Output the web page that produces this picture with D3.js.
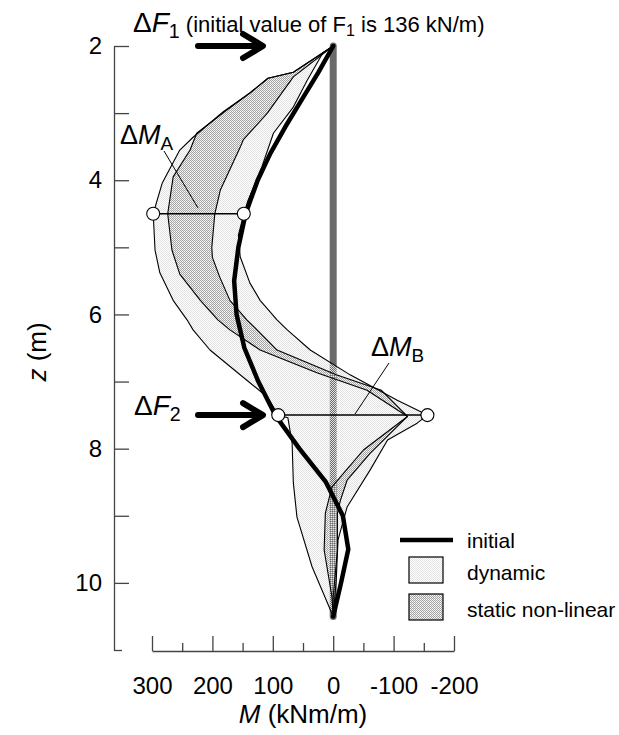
<!DOCTYPE html>
<html>
<head>
<meta charset="utf-8">
<script src="https://cdn.jsdelivr.net/npm/d3@7"></script>
<style>
  body { margin: 0; background: #fff; }
  svg { display: block; font-family: "Liberation Sans", Arial, sans-serif; }
</style>
</head>
<body>
<svg id="chart" width="619" height="735"></svg>
<script>
// ---------- data ----------
const zMajorTicks = [2, 4, 6, 8, 10];
const zAllTicks = [2, 3, 4, 5, 6, 7, 8, 9, 10];
const mMajorTicks = [300, 200, 100, 0, -100, -200];
const mMinorTicks = [250, 150, 50, -50, -150];

const initialZ = [2.0, 2.4, 2.8, 3.2, 3.6, 4.0, 4.5, 5.0, 5.5, 6.0, 6.5, 7.0, 7.5, 8.0, 8.5, 9.0, 9.5, 10.0, 10.5];
const initialM = [0, 25, 52, 79, 104, 125, 145, 157, 164, 160, 147, 124, 96, 56, 12, -16, -25, -13, 0];

const dynMaxZ = [2.0, 2.39, 2.48, 2.7, 2.98, 3.36, 3.55, 4.04, 4.5, 5.04, 5.38, 5.79, 6.08, 6.23, 6.53, 6.98, 7.23, 7.5, 7.54, 7.92, 8.51, 9.02, 9.76, 10.5];
const dynMaxM = [0, 66, 108, 138, 182, 232, 254, 283, 298, 295, 287, 265, 242, 232, 204, 143, 109, 91, 75, 68, 66, 60, 35, 0];

const dynMinZ = [2.0, 2.1, 2.51, 2.91, 3.3, 3.8, 4.3, 4.5, 4.82, 5.14, 5.53, 5.79, 6.08, 6.23, 6.53, 6.9, 7.28, 7.5, 7.62, 7.87, 8.32, 8.87, 9.36, 9.96, 10.5];
const dynMinM = [0, 17, 43, 66, 99, 118, 141, 148, 157, 154, 138, 121, 93, 76, 38, -28, -106, -156, -139, -90, -61, -23, -8, -5, 0];

const statMaxZ = [2.0, 2.39, 2.48, 2.7, 2.98, 3.3, 3.55, 3.95, 4.5, 5.04, 5.4, 5.79, 6.08, 6.23, 6.53, 6.87, 7.13, 7.52, 8.02, 8.42, 8.57, 8.96, 9.51, 10.21, 10.5];
const statMaxM = [0, 66, 108, 138, 180, 226, 237, 265, 274, 267, 254, 220, 191, 171, 121, 27, -56, -123, -50, -12, 2, 13, 15, 2, 0];

const statMinZ = [2.0, 2.46, 3.0, 3.4, 3.51, 4.15, 4.5, 5.0, 5.15, 5.44, 5.79, 6.08, 6.23, 6.53, 6.9, 7.13, 7.52, 8.07, 8.47, 8.77, 8.96, 9.51, 10.21, 10.5];
const statMinM = [0, 66, 109, 149, 154, 187, 196, 201, 200, 188, 171, 143, 126, 93, -5, -80, -123, -61, -23, -12, -7, -7, 0, 0];

// marked differences
const deltaA = { z: 4.5, mLeft: 298, mRight: 148 };
const deltaB = { z: 7.5, mLeft: 91, mRight: -156 };
const forceZ = [2.0, 7.5];

// ---------- scales ----------
const svg = d3.select("#chart");
const x = d3.scaleLinear().domain([300, -200]).range([152, 454]);
const y = d3.scaleLinear().domain([2, 11]).range([46, 650]);

// patterns for the dotted fills
const defs = svg.append("defs");
const dp = defs.append("pattern").attr("id", "dynPat").attr("width", 2).attr("height", 2)
  .attr("patternUnits", "userSpaceOnUse");
dp.append("rect").attr("x", 0).attr("y", 0).attr("width", 1).attr("height", 1).attr("fill", "#e2e2e2");
dp.append("rect").attr("x", 1).attr("y", 1).attr("width", 1).attr("height", 1).attr("fill", "#e2e2e2");
const sp = defs.append("pattern").attr("id", "statPat").attr("width", 2).attr("height", 2)
  .attr("patternUnits", "userSpaceOnUse");
sp.append("rect").attr("x", 0).attr("y", 0).attr("width", 1).attr("height", 1).attr("fill", "#a4a4a4");
sp.append("rect").attr("x", 1).attr("y", 1).attr("width", 1).attr("height", 1).attr("fill", "#a4a4a4");
sp.append("rect").attr("x", 1).attr("y", 0).attr("width", 1).attr("height", 1).attr("fill", "#e8e8e8");

// ---------- axes ----------
const axisColor = "#444";
const fmt = d => String(d);   // plain hyphen minus, as in the original
const gx = svg.append("g").attr("transform", `translate(0,${y(11) + 1})`)
  .call(d3.axisBottom(x).tickValues(mMajorTicks).tickSizeInner(-15).tickSizeOuter(0).tickPadding(26).tickFormat(fmt));
gx.selectAll("text").attr("font-size", 24).attr("fill", "#000")
  .attr("font-family", '"Liberation Sans", Arial, sans-serif');
svg.append("g").attr("transform", `translate(0,${y(11) + 1})`)
  .call(d3.axisBottom(x).tickValues(mMinorTicks).tickSizeInner(-8).tickSizeOuter(0).tickFormat(""))
  .select(".domain").remove();

const gy = svg.append("g").attr("transform", `translate(114,0)`)
  .call(d3.axisLeft(y).tickValues(zAllTicks).tickSizeInner(-15).tickSizeOuter(0).tickPadding(12)
    .tickFormat(d => zMajorTicks.includes(d) ? fmt(d) : ""));
gy.selectAll("text").attr("font-size", 24).attr("fill", "#000")
  .attr("font-family", '"Liberation Sans", Arial, sans-serif');
svg.append("g").attr("transform", `translate(114,0)`)
  .call(d3.axisLeft(y).tickValues([11]).tickSizeInner(-8).tickSizeOuter(0).tickFormat(""))
  .select(".domain").remove();
svg.selectAll(".domain, .tick line").attr("stroke", axisColor).attr("stroke-width", 1.3);

// axis titles
const xt = svg.append("text").attr("x", 303).attr("y", 723).attr("text-anchor", "middle").attr("font-size", 26);
xt.append("tspan").attr("font-style", "italic").text("M");
xt.append("tspan").text(" (kNm/m)");
const yt = svg.append("text").attr("transform", "translate(37,352) rotate(-90)")
  .attr("text-anchor", "middle").attr("dominant-baseline", "central").attr("font-size", 26);
yt.append("tspan").attr("font-style", "italic").text("z");
yt.append("tspan").text(" (m)");

// ---------- marks ----------
const pts = (zs, ms) => zs.map((z, i) => [x(ms[i]), y(z)]);
const line = d3.line();

// pile (grey bar at M = 0)
svg.append("line").attr("x1", x(0)).attr("x2", x(0)).attr("y1", y(2)).attr("y2", y(10.5))
  .attr("stroke", "#6b6b6b").attr("stroke-width", 7).attr("stroke-linecap", "round");

// dynamic envelope
const dynPoly = pts(dynMaxZ, dynMaxM).concat(pts(dynMinZ, dynMinM).reverse());
svg.append("path").attr("d", line(dynPoly) + "Z").attr("fill", "url(#dynPat)").attr("stroke", "none");
// static non-linear envelope
const statPoly = pts(statMaxZ, statMaxM).concat(pts(statMinZ, statMinM).reverse());
svg.append("path").attr("d", line(statPoly) + "Z").attr("fill", "url(#statPat)").attr("stroke", "none");

// outlines
[[dynMaxZ, dynMaxM], [dynMinZ, dynMinM], [statMaxZ, statMaxM], [statMinZ, statMinM]].forEach(([zs, ms]) => {
  svg.append("path").attr("d", line(pts(zs, ms))).attr("fill", "none")
    .attr("stroke", "#000").attr("stroke-width", 1.1).attr("stroke-linejoin", "round");
});

// initial moment
svg.append("path").attr("d", line(pts(initialZ, initialM))).attr("fill", "none")
  .attr("stroke", "#000").attr("stroke-width", 4.5).attr("stroke-linejoin", "round").attr("stroke-linecap", "round");

// delta markers
[deltaA, deltaB].forEach(d => {
  svg.append("line").attr("x1", x(d.mLeft)).attr("x2", x(d.mRight)).attr("y1", y(d.z)).attr("y2", y(d.z))
    .attr("stroke", "#000").attr("stroke-width", 1.5);
  [d.mLeft, d.mRight].forEach(m => {
    svg.append("circle").attr("cx", x(m)).attr("cy", y(d.z)).attr("r", 6.5)
      .attr("fill", "#fff").attr("stroke", "#000").attr("stroke-width", 1.1);
  });
});

// leader lines
svg.append("line").attr("x1", 164).attr("y1", 151).attr("x2", 198).attr("y2", 208)
  .attr("stroke", "#000").attr("stroke-width", 1);
svg.append("line").attr("x1", 389).attr("y1", 363).attr("x2", 355).attr("y2", 414)
  .attr("stroke", "#000").attr("stroke-width", 1);

// force arrows
forceZ.forEach(z => {
  const yy = y(z), x0 = 198, x1 = 263;
  svg.append("path").attr("d", `M${x0},${yy}L${x1 - 2},${yy}M${x1 - 20},${yy - 12}L${x1},${yy}L${x1 - 20},${yy + 12}`)
    .attr("fill", "none").attr("stroke", "#000").attr("stroke-width", 6)
    .attr("stroke-linecap", "round").attr("stroke-linejoin", "round");
});

// labels
function deltaLabel(xp, yp, sym, sub, size) {
  const t = svg.append("text").attr("x", xp).attr("y", yp).attr("font-size", size);
  t.append("tspan").text("Δ");
  t.append("tspan").attr("font-style", "italic").text(sym);
  t.append("tspan").attr("font-size", size * 0.7).attr("dy", 6).text(sub);
  return t;
}
const f1 = deltaLabel(133, 32, "F", "1", 28);
f1.append("tspan").attr("font-size", 22).attr("dy", -6).text(" (initial value of F");
f1.append("tspan").attr("font-size", 16).attr("dy", 4).text("1");
f1.append("tspan").attr("font-size", 22).attr("dy", -4).text(" is 136 kN/m)");
deltaLabel(134, 415, "F", "2", 28);
deltaLabel(120, 144, "M", "A", 27);
deltaLabel(371, 356, "M", "B", 27);

// ---------- legend ----------
const lg = svg.append("g").attr("font-size", 21);
lg.append("line").attr("x1", 400).attr("x2", 453).attr("y1", 540).attr("y2", 540)
  .attr("stroke", "#000").attr("stroke-width", 4.5);
lg.append("text").attr("x", 467).attr("y", 540).attr("dominant-baseline", "central").text("initial");
lg.append("rect").attr("x", 409).attr("y", 557).attr("width", 34).attr("height", 26)
  .attr("fill", "url(#dynPat)").attr("stroke", "#000").attr("stroke-width", 1.2);
lg.append("text").attr("x", 467).attr("y", 572).attr("dominant-baseline", "central").text("dynamic");
lg.append("rect").attr("x", 409).attr("y", 594).attr("width", 34).attr("height", 26)
  .attr("fill", "url(#statPat)").attr("stroke", "#000").attr("stroke-width", 1.2);
lg.append("text").attr("x", 467).attr("y", 609).attr("dominant-baseline", "central").text("static non-linear");
</script>
</body>
</html>
